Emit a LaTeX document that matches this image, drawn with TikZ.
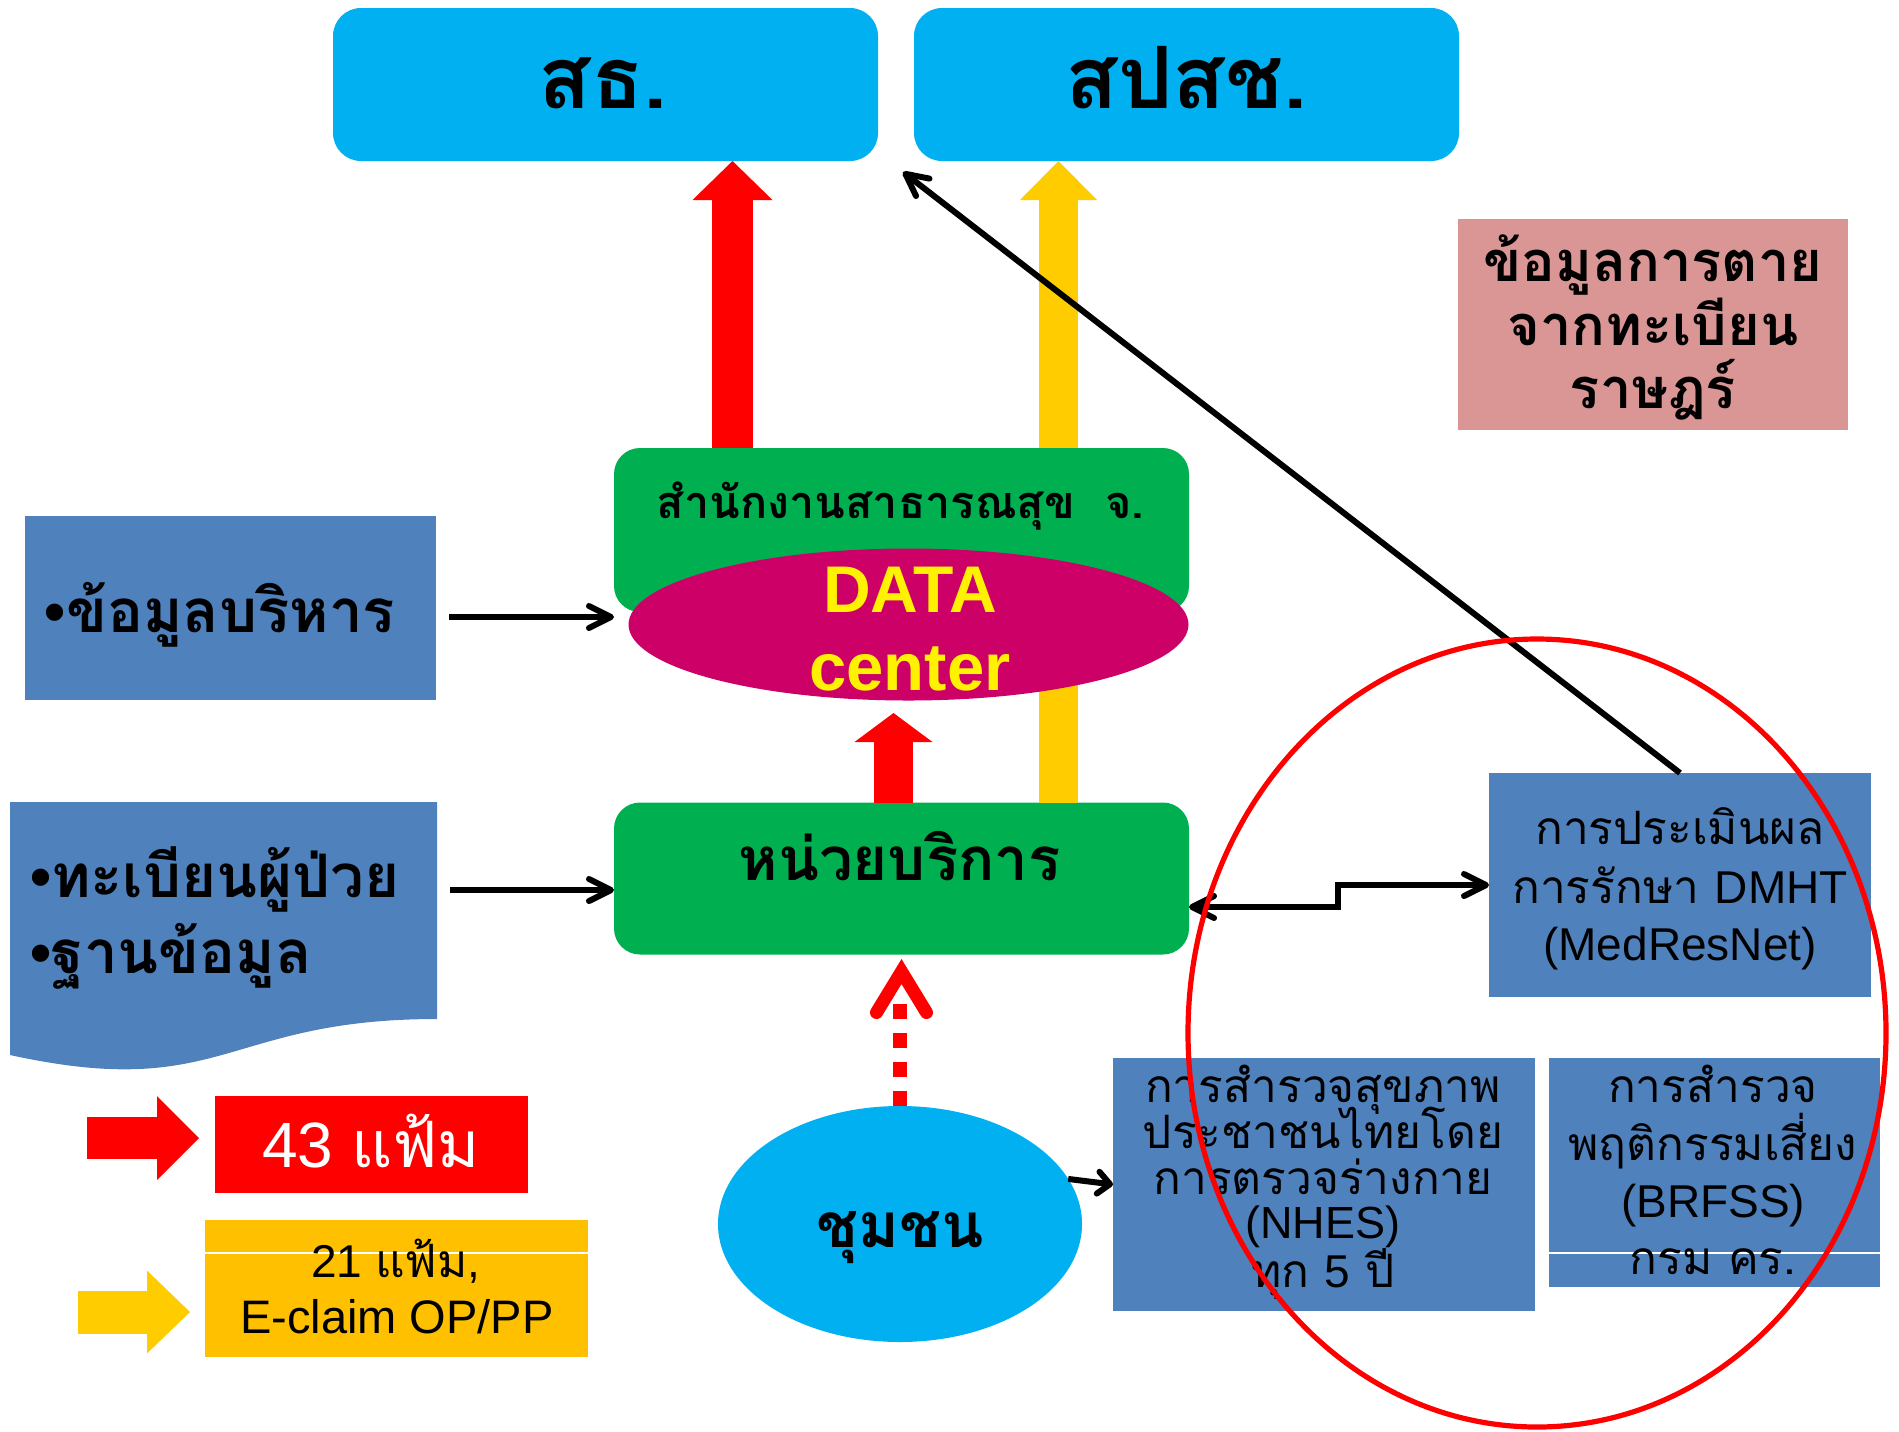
\documentclass[tikz,border=0pt]{standalone}
\usepackage{fontspec}
\newfontfamily\thai[Script=Thai]{Loma}
\newfontfamily\lat{Liberation Sans}
\usetikzlibrary{arrows.meta,shapes.geometric,calc}
\definecolor{skyb}{HTML}{00B0F0}
\definecolor{grn}{HTML}{00B050}
\definecolor{mag}{HTML}{CC0066}
\definecolor{steel}{HTML}{4F81BD}
\definecolor{rose}{HTML}{D99694}
\definecolor{ylw}{HTML}{FFCC00}
\definecolor{amber}{HTML}{FFC000}
\newcommand\thfs[1]{\thai\fontsize{#1}{#1}\selectfont}
\newcommand\latfs[1]{\lat\fontsize{#1}{#1}\selectfont}
\begin{document}
\begin{tikzpicture}[x=0.5pt,y=-0.5pt,
  box/.style={inner sep=0pt,outer sep=0pt},
  txt/.style={anchor=base,inner sep=0pt,outer sep=0pt},
  conn/.style={line width=3pt,-{Straight Barb[length=11pt,width=11pt,round]}},
  biconn/.style={line width=3pt,{Straight Barb[length=11pt,width=11pt,round]}-{Straight Barb[length=11pt,width=11pt,round]}},
]
\useasboundingbox (0,0) rectangle (1899,1431);

% top boxes
\node[box,fill=skyb,rounded corners=14pt,minimum width=272.5pt,minimum height=76.5pt] (sth) at (605.5,84.5) {};
\node[box,fill=skyb,rounded corners=14pt,minimum width=272.5pt,minimum height=76.5pt] (spsch) at (1186.5,84.5) {};
\node[box,fill=rose,minimum width=195pt,minimum height=105.5pt] (pink) at (1653,324.5) {};

% service unit box
\node[box,fill=grn,rounded corners=13pt,minimum width=287.5pt,minimum height=76pt] (unit) at (901.5,878.5) {};

% yellow arrow (behind)
\draw[ylw,line width=19.5pt,-{Triangle[width=38.5pt,length=19.5pt,line width=0pt]}] (1058.5,0 |- unit.north) -- (1058.5,0 |- spsch.south);

% provincial box
\node[box,fill=grn,rounded corners=13pt,minimum width=287.5pt,minimum height=82pt] (prov) at (901.5,530) {};
\draw[red,line width=20.5pt,-{Triangle[width=40pt,length=19.5pt,line width=0pt]}] (732.5,0 |- prov.north) -- (732.5,0 |- sth.south);
\node[box,ellipse,fill=mag,minimum width=280pt,minimum height=76pt] (dc) at (908.5,624.5) {};
\draw[red,line width=19.5pt,shorten >=6.25pt,-{Triangle[width=39pt,length=14.5pt,line width=0pt]}] (893.5,0 |- unit.north) -- (893.5,0 |- dc.south);

% left boxes
\node[box,fill=steel,minimum width=205.5pt,minimum height=92pt] (admin) at (230.5,608) {};
\node[box,minimum width=213.5pt,minimum height=135pt] (doc) at (223.5,937) {};
\fill[steel] (doc.north west) -- (doc.north east) -- ($(doc.north east)+(0,217)$) .. controls ($(doc.north)+(0,217)$) and ($(doc.north)+(0,299.7)$) .. ($(doc.north west)+(0,253)$) -- cycle;

% community
\node[box,ellipse,fill=skyb,minimum width=182pt,minimum height=118pt] (comm) at (900,1224) {};

% right boxes
\node[box,fill=steel,minimum width=211pt,minimum height=126.5pt] (nhes) at (1324,1184.5) {};
\node[box,fill=steel,minimum width=165.5pt,minimum height=114.5pt] (brfss) at (1714.5,1172.5) {};
\draw[white,line width=0.6pt] (brfss.west |- 0,1253) -- (brfss.east |- 0,1253);
\node[box,fill=steel,minimum width=191pt,minimum height=112pt] (med) at (1680,885) {};

% legend
\node[box,fill=red,minimum width=156.5pt,minimum height=48.5pt] (lr) at (371.5,1144.5) {};
\node[box,fill=amber,minimum width=191.5pt,minimum height=68.5pt] (ly) at (396.5,1288.5) {};
\draw[white,line width=0.6pt] (ly.west |- 0,1253) -- (ly.east |- 0,1253);
\coordinate (lrs) at (87,1138);
\coordinate (lre) at (199,1138);
\draw[red,line width=21pt,-{Triangle[width=42pt,length=21pt,line width=0pt]}] (lrs) -- (lre);
\coordinate (lys) at (78,1312);
\coordinate (lye) at (190,1312);
\draw[ylw,line width=21.5pt,-{Triangle[width=41.5pt,length=21.5pt,line width=0pt]}] (lys) -- (lye);

% texts
\node[txt] (sthT) at (603,108) {\thfs{43}\bfseries สธ.};
\node[txt] (spschT) at (1186.5,108) {\thfs{43}\bfseries สปสช.};
\node[txt] (pinkT1) at (1653,281) {\thfs{28}\bfseries ข้อมูลการตาย};
\node[txt] (pinkT2) at (1653,345) {\thfs{28}\bfseries จากทะเบียน};
\node[txt] (pinkT3) at (1653,408) {\thfs{28}\bfseries ราษฎร์};
\node[txt] (provT) at (900.5,518) {\thfs{22.5}\bfseries สำนักงานสาธารณสุข\ \ จ.};
\node[txt,text=yellow] (dcT1) at (910,612) {\latfs{33}\bfseries DATA};
\node[txt,text=yellow] (dcT2) at (910,690) {\latfs{33.5}\bfseries center};
\node[txt] (adminT) at (220,632) {\latfs{30}\bfseries •\thai ข้อมูลบริหาร};
\node[txt,anchor=base west] (docT1) at (30,897) {\latfs{30}\bfseries •\thai ทะเบียนผู้ป่วย};
\node[txt,anchor=base west] (docT2) at (30,973) {\latfs{30}\bfseries •\thai ฐานข้อมูล};
\node[txt] (unitT) at (899.5,880) {\thfs{30}\bfseries หน่วยบริการ};
\node[txt] (commT) at (900,1247) {\thfs{31}\bfseries ชุมชน};
\node[txt] (medT1) at (1680,844) {\thfs{23}การประเมินผล};
\node[txt] (medT2) at (1680,903) {\thfs{23}การรักษา {\latfs{23}DMHT}};
\node[txt] (medT3) at (1680,960) {\latfs{23}(MedResNet)};
\node[txt] (nhesT1) at (1323,1102) {\thfs{23}การสำรวจสุขภาพ};
\node[txt] (nhesT2) at (1323,1148) {\thfs{23}ประชาชนไทยโดย};
\node[txt] (nhesT3) at (1323,1194) {\thfs{23}การตรวจร่างกาย};
\node[txt] (nhesT4) at (1323,1238) {\latfs{22.5}(NHES)};
\node[txt] (nhesT5) at (1323,1287) {\thfs{23}ทุก {\latfs{23}5} ปี};
\node[txt] (brT1) at (1713,1102) {\thfs{23}การสำรวจ};
\node[txt] (brT2) at (1713,1160) {\thfs{23}พฤติกรรมเสี่ยง};
\node[txt] (brT3) at (1713,1217) {\latfs{23}(BRFSS)};
\node[txt] (brT4) at (1713,1274) {\thfs{23}กรม คร.};
\node[txt,text=white] (lrT) at (371,1167) {\latfs{32}43 \thai แฟ้ม};
\node[txt] (lyT1) at (396,1277) {\latfs{23}21 \thai แฟ้ม\lat ,};
\node[txt] (lyT2) at (397,1333) {\latfs{23.5}E-claim OP/PP};

% connectors
\coordinate (a1) at ($(admin.east)+(13,9)$);
\draw[conn] (a1) -- (a1 -| prov.west);
\coordinate (a2) at ($(doc.east)+(13,-47)$);
\draw[conn] (a2) -- (a2 -| unit.west);
\draw[biconn] ($(unit.east)+(0,28.5)$) -- ++(149,0) |- (med.west);
\draw[conn] (med.north) -- ($(spsch.south west)+(-11,11)$);
\draw[line width=3pt,-{Straight Barb[length=6pt,width=11pt,round]}] (comm.15) -- (nhes.west);
\draw[red,line width=7pt,dash pattern=on 7.5pt off 7pt] (comm.north) -- ++(0,-102);
\draw[red,line width=6.5pt,line cap=round,line join=miter] ($(unit.south)+(-25,58)$) -- ($(unit.south)+(0,17)$) -- ($(unit.south)+(25,58)$);

% focus ellipse
\node[box,ellipse,draw=red,line width=2.6pt,minimum width=349pt,minimum height=394pt] (focus) at (1537,1033) {};
\end{tikzpicture}
\end{document}
